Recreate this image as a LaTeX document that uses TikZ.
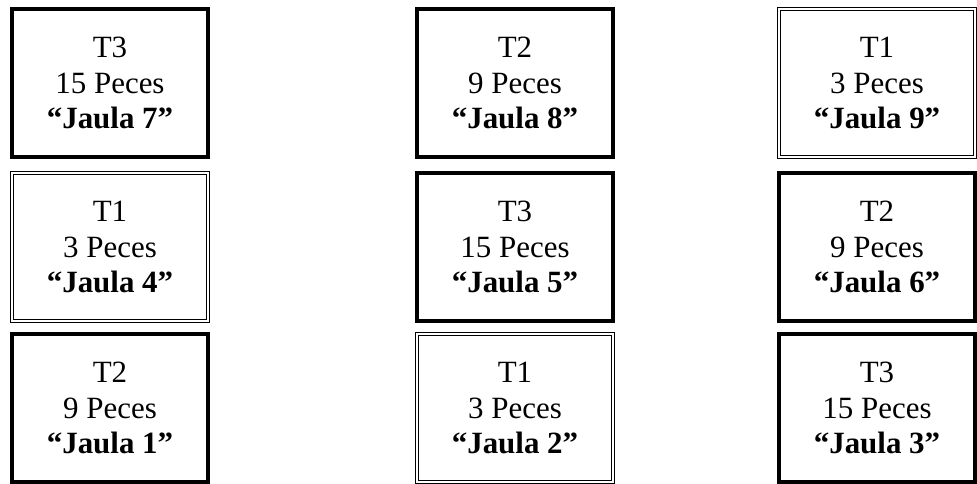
\documentclass[tikz,border=0pt]{standalone}
\usepackage{fontspec}
\setmainfont{Liberation Serif}
\tikzset{
  jaula/.style={
    draw,
    shape = rectangle,
    align = center,
    minimum width = 4.9cm,
    minimum height = 3.7cm,
    inner sep = 0pt,
    font = \fontsize{22}{25.5}\selectfont
  },
  heavy/.style={
    jaula,
    line width = 2.6pt
  },
  light/.style={
    jaula,
    double,
    line width = 0.7pt,
    double distance = 1.4pt
  },
  every picture/.style = {
    x = 0.025cm,
    y = -0.025cm
  }
}
\begin{document}
\begin{tikzpicture}
        \useasboundingbox (0,0) rectangle (977,483);
        \foreach \n/\x/\y/\t/\p/\s in {7/110/83/3/15/heavy, 8/515/83/2/9/heavy, 9/877/83/1/3/light,
                                        4/110/247/1/3/light, 5/515/247/3/15/heavy, 6/877/247/2/9/heavy,
                                        1/110/408/2/9/heavy, 2/515/408/1/3/light, 3/877/408/3/15/heavy}{
                \node[\s] (j\n) at (\x,\y) {T\t\\\p{} Peces\\\textbf{“Jaula \n”}};
            }
    \end{tikzpicture}
\end{document}
